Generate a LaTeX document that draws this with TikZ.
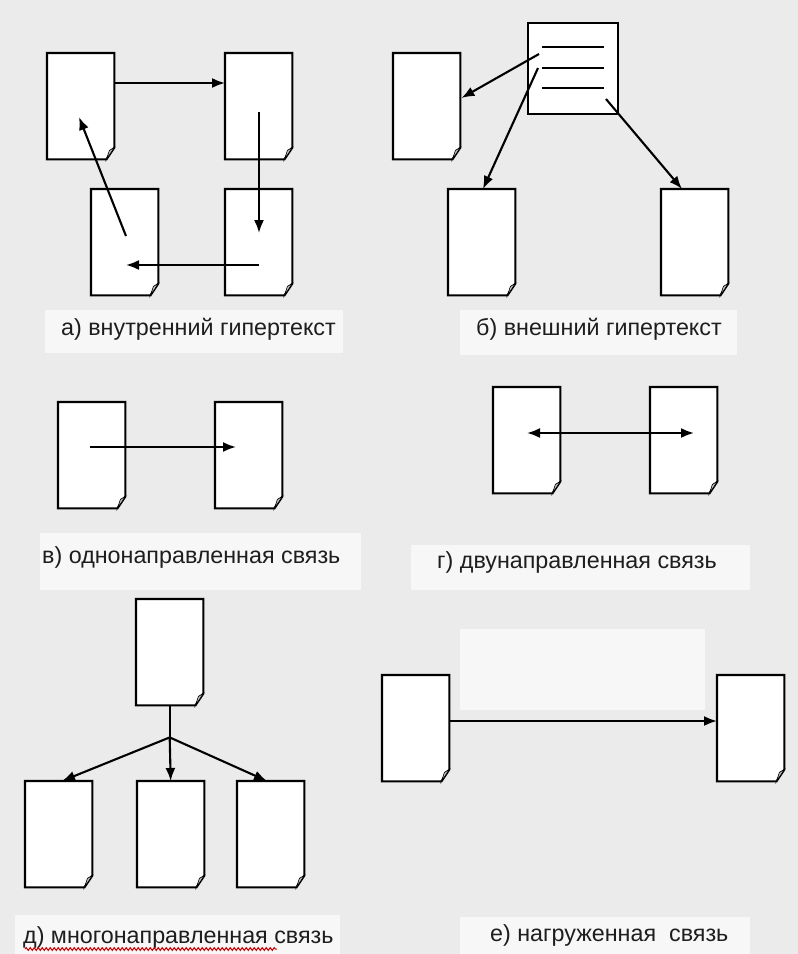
\documentclass[tikz,border=0pt]{standalone}
\usepackage{fontspec}
\setmainfont{Liberation Sans}
\usetikzlibrary{arrows.meta,calc,decorations.pathmorphing}
\definecolor{bgc}{HTML}{EBEBEB}
\definecolor{lblc}{HTML}{F7F7F7}
\definecolor{txtc}{HTML}{1E1E1E}
\tikzset{
  pagebox/.style={rectangle, draw=none, minimum width=67pt, minimum height=106pt, inner sep=0pt, anchor=north west},
  pageline/.style={draw=black, line width=2.1pt, fill=white, line join=miter},
  fold/.style={draw=black, line width=0.7pt, fill=gray!45},
  link/.style={line width=2.1pt, -{Latex[length=13pt,width=10pt]}},
  blink/.style={line width=2.1pt, {Latex[length=13pt,width=10pt]}-{Latex[length=13pt,width=10pt]}},
  plainline/.style={line width=2.1pt},
  capt/.style={anchor=west, inner sep=0pt, text=txtc, font=\fontsize{23.3}{26}\selectfont},
  menubox/.style={rectangle, draw=black, line width=2.1pt, fill=white, minimum width=90pt, minimum height=91pt, inner sep=0pt, anchor=north west},
  menuline/.style={line width=2.1pt}
}
\newcommand\docpage[3]{%
  \node[pagebox] (#1) at (#2,#3) {};
  \path[pageline] (#1.north west) -- (#1.north east) -- ([yshift=12pt]#1.south east) -- ([xshift=-8pt]#1.south east) -- (#1.south west) -- cycle;
  \path[fold] ([yshift=12pt]#1.south east) -- ([xshift=-8pt]#1.south east) -- ([xshift=-5pt,yshift=9pt]#1.south east) -- cycle;
}
\begin{document}
\begin{tikzpicture}[x=1pt,y=-1pt]
\fill[bgc] (0,0) rectangle (798,954);
\useasboundingbox (0,0) rectangle (798,954);
% light label areas
\fill[lblc] (45,310) rectangle (343,353);
\fill[lblc] (460,310) rectangle (737,355);
\fill[lblc] (40,533) rectangle (361,590);
\fill[lblc] (411,545) rectangle (750,590);
\fill[lblc] (15,915) rectangle (340,954);
\fill[lblc] (460,917) rectangle (750,954);
\fill[lblc] (460,629) rectangle (705,710);

% a) internal hypertext
\docpage{a1}{47}{53}
\docpage{a2}{225}{53}
\docpage{a3}{91}{189}
\docpage{a4}{225}{189}
\draw[link] ($(a1.north east)+(0,30)$) -- ($(a2.north west)+(0,30)$);
\draw[link] ($(a2.north west)+(34,59)$) -- ($(a4.north west)+(34,44)$);
\draw[link] ($(a4.north west)+(34,76)$) -- ($(a3.north west)+(35,76)$);
\draw[link] ($(a3.north west)+(35,47)$) -- ($(a1.north west)+(32,64)$);
\node[capt] (la) at (61,329) {а) внутренний гипертекст};

% b) external hypertext
\node[menubox] (b0) at (527,22) {};
\draw[menuline] ($(b0.north west)+(15,25)$) -- ($(b0.north west)+(77,25)$);
\draw[menuline] ($(b0.north west)+(15,46)$) -- ($(b0.north west)+(77,46)$);
\draw[menuline] ($(b0.north west)+(15,66)$) -- ($(b0.north west)+(77,66)$);
\docpage{b1}{393}{53}
\docpage{b2}{448}{189}
\docpage{b3}{661}{189}
\draw[link] ($(b0.north west)+(12,32)$) -- ($(b1.north east)+(1,45)$);
\draw[link] ($(b0.north west)+(11,46)$) -- ($(b2.north west)+(35,0)$);
\draw[link] ($(b0.north west)+(79,77)$) -- ($(b3.north west)+(21,0)$);
\node[capt] (lb) at (476,329) {б) внешний гипертекст};

% v) one-way link
\docpage{v1}{58}{402}
\docpage{v2}{215}{402}
\draw[link] ($(v1.north west)+(32,45)$) -- ($(v2.north west)+(21,45)$);
\node[capt] (lv) at (42,557) {в) однонаправленная связь};

% g) two-way link
\docpage{g1}{493}{387}
\docpage{g2}{650}{387}
\draw[blink] ($(g1.north west)+(34,46)$) -- ($(g2.north west)+(44,46)$);
\node[capt] (lg) at (437,562) {г) двунаправленная связь};

% d) multi-directional link
\docpage{d0}{136}{599}
\docpage{d1}{25}{781}
\docpage{d2}{137}{781}
\docpage{d3}{237}{781}
\coordinate (dj) at ($(d0.south)+(0,32)$);
\draw[plainline] (d0.south) -- (dj);
\draw[link] (dj) -- ($(d1.north west)+(37,0)$);
\draw[link] (dj) -- (d2.north);
\draw[link] (dj) -- ($(d3.north west)+(30,0)$);
\node[capt] (ld) at (23,937) {д) многонаправленная связь};
\draw[red!80!black, line width=1pt, decorate, decoration={snake, amplitude=1.4pt, segment length=4pt}] (25,949) -- (277,949);

% e) loaded link
\docpage{e1}{382}{675}
\docpage{e2}{717}{675}
\draw[link] ($(e1.north east)+(0,46)$) -- ($(e2.north west)+(0,46)$);
\node[capt] (le) at (490,935) {е) нагруженная\ \ связь};
\end{tikzpicture}
\end{document}
